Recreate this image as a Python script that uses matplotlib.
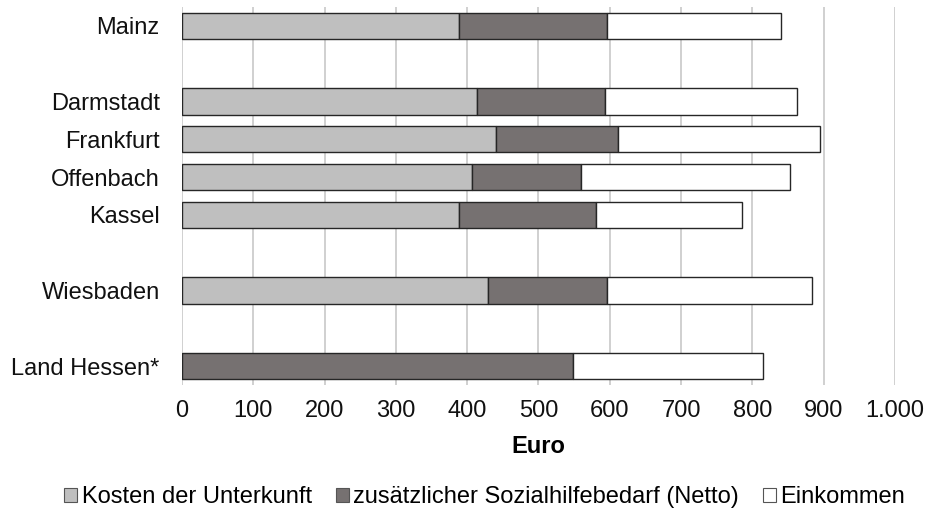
import numpy as np
import matplotlib.pyplot as plt
from matplotlib.patches import Patch

plt.rcParams['font.family'] = ['Liberation Sans', 'DejaVu Sans']

# data (Euro)
staedte = ["Mainz", "Darmstadt", "Frankfurt", "Offenbach", "Kassel", "Wiesbaden", "Land Hessen*"]
slots = [0, 2, 3, 4, 5, 7, 9]  # leere Zeilen zwischen den Gruppen
kdu = [388, 414, 440, 407, 388, 429, 0]
sozialhilfe = [208, 179, 171, 152, 192, 167, 548]
einkommen = [244, 269, 284, 294, 205, 288, 267]

serien = ["Kosten der Unterkunft", "zusätzlicher Sozialhilfebedarf (Netto)", "Einkommen"]
farben = ["#bfbfbf", "#767171", "#ffffff"]
xticks = [0, 100, 200, 300, 400, 500, 600, 700, 800, 900, 1000]
xticklabels = ["0", "100", "200", "300", "400", "500", "600", "700", "800", "900", "1.000"]

fig = plt.figure(figsize=(9.27, 5.28), dpi=100)
ax = fig.add_axes([0.1963, 0.2708, 0.7692, 0.7159])

y = np.array(slots)
left = np.zeros(len(staedte))
for werte, farbe in zip([kdu, sozialhilfe, einkommen], farben):
    werte = np.array(werte)
    ax.barh(y, werte, left=left, height=0.69, color=farbe,
            edgecolor="#262626", linewidth=1.0, zorder=3)
    left = left + werte

ax.set_xlim(0, 1000)
ax.set_ylim(9.5, -0.5)
ax.set_xticks(xticks)
ax.set_xticklabels(xticklabels)
ax.set_yticks(y)
ax.set_yticklabels(staedte)
ax.tick_params(axis="x", length=0, pad=11, labelsize=17, colors="#111111")
ax.tick_params(axis="y", length=0, pad=16, labelsize=17, colors="#111111")
ax.grid(axis="x", color="#c8c8c8", linewidth=1.2, zorder=0)
for s in ax.spines.values():
    s.set_visible(False)

ax.set_xlabel("Euro", fontsize=17, fontweight="bold", labelpad=9)

handles = [Patch(facecolor=f, edgecolor="#555555", linewidth=0.8) for f in farben]
fig.legend(handles, serien, loc="center", bbox_to_anchor=(0.523, 0.058), ncol=3,
           frameon=False, fontsize=17, handlelength=0.55, handleheight=0.55,
           handletextpad=0.2, columnspacing=1.0)

fig.savefig("out.png", dpi=100)
